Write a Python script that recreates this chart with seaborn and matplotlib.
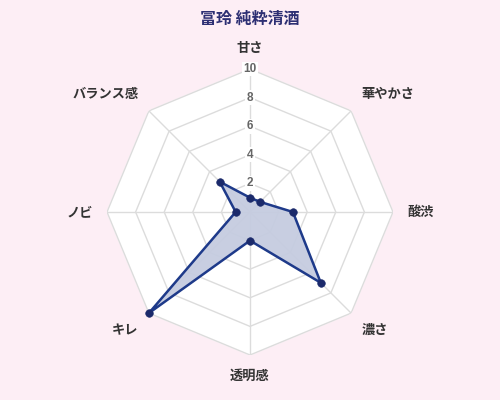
import numpy as np
import matplotlib
matplotlib.use("Agg")
import matplotlib.pyplot as plt
import seaborn as sns

sns.set_theme(style="white")
plt.rcParams['font.family'] = ['Noto Sans CJK JP', 'DejaVu Sans']

title = "冨玲 純粋清酒"
categories = ["甘さ", "華やかさ", "酸渋", "濃さ", "透明感", "キレ", "ノビ", "バランス感"]
values = [1, 1, 3, 7, 2, 10, 1, 3]
ticks = [2, 4, 6, 8, 10]

bg = "#fdeef5"
line_color = "#1e3a8a"
fill_color = "#c5cce0"
point_color = "#1b2a6b"

n = len(categories)
angles = np.linspace(0, 2 * np.pi, n, endpoint=False)
closed = np.append(angles, angles[0])

fig = plt.figure(figsize=(5, 4), dpi=100, facecolor=bg)
ax = fig.add_axes([0.5 - 0.286, 0.47 - 0.3575, 0.572, 0.715], polar=True)
ax.set_facecolor("none")
ax.set_theta_zero_location("N")
ax.set_theta_direction(-1)
ax.set_ylim(0, 10)
ax.spines["polar"].set_visible(False)
ax.grid(False)
ax.set_xticks([])
ax.set_yticks([])

# white octagon behind everything
ax.fill(closed, [ticks[-1]] * (n + 1), color="white", zorder=0)

# polygon rings and spokes
for t in ticks:
    ax.plot(closed, [t] * (n + 1), color="#dcdcdc", lw=1, zorder=1)
for a in angles:
    ax.plot([a, a], [0, ticks[-1]], color="#dcdcdc", lw=1, zorder=1)

# data
vals = values + values[:1]
ax.fill(closed, vals, color=fill_color, alpha=0.95, zorder=2)
ax.plot(closed, vals, color=line_color, lw=1.8, zorder=3, clip_on=False)
pts = sns.scatterplot(x=angles, y=values, ax=ax, color=point_color, s=30,
                      edgecolor=point_color, zorder=4, legend=False)
for c in pts.collections:
    c.set_clip_on(False)

# tick labels on the top spoke
for t in ticks:
    ax.text(0, t, str(t), ha="center", va="center", fontsize=8.5,
            fontweight="bold", color="#666666", zorder=5,
            family=["Liberation Sans", "DejaVu Sans"],
            bbox=dict(facecolor="white", edgecolor="none", pad=1.0))

# category labels
for a, lab in zip(angles, categories):
    deg = np.degrees(a) % 360
    if deg < 1 or deg > 359:
        ha, va = "center", "bottom"
    elif abs(deg - 180) < 1:
        ha, va = "center", "top"
    elif deg < 180:
        ha = "left"
        va = "bottom" if deg < 89 else ("center" if deg < 91 else "top")
    else:
        ha = "right"
        va = "top" if deg < 269 else ("center" if deg < 271 else "bottom")
    ax.text(a, 11.0, lab, ha=ha, va=va, fontsize=9.5, fontweight="bold",
            color="#333333", clip_on=False)

fig.text(0.5, 1 - 19 / 400, title, ha="center", va="center", fontsize=11.5,
         fontweight="bold", color="#2d2f73")

fig.savefig("out.png", dpi=100, facecolor=bg)
